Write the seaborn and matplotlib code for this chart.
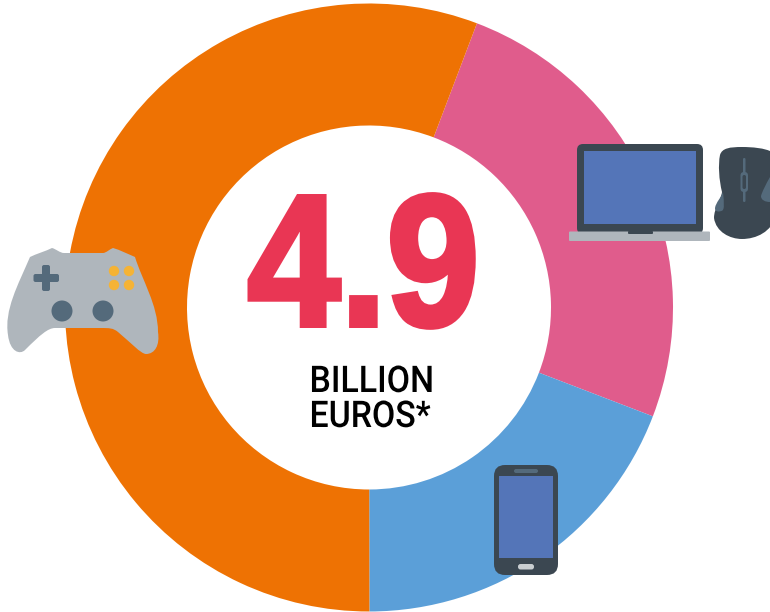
import matplotlib
matplotlib.use("Agg")
import matplotlib.pyplot as plt
import matplotlib.patheffects as pe
from matplotlib.patches import FancyBboxPatch, Circle, PathPatch, Rectangle
from matplotlib.path import Path
from matplotlib.transforms import Affine2D
import seaborn as sns

# Revenue shares by platform, in percent
platforms = ["Computer", "Mobile", "Console"]
shares = [25.05, 19.15, 55.8]
slice_colors = ["#E05C8C", "#5B9FD8", "#EE7203"]
total_value = "4.9"
total_unit = "BILLION\nEUROS*"

RED = "#E93654"
GREY = "#AFB6BC"
DARK = "#3B4751"
SCREEN = "#5475B8"
SLATE = "#546A7B"
YELLOW = "#F5B335"
W, H = 770, 612

sns.set_theme(style="white")
fig = plt.figure(figsize=(W / 100, H / 100), dpi=100)
ax = fig.add_axes([0, 0, 1, 1])


class Condensed(pe.AbstractPathEffect):
    """Squeeze glyphs horizontally about x = anchor, with an optional mitred outline."""

    def __init__(self, anchor, factor, stroke=0.0, color="black"):
        super().__init__()
        self.anchor, self.factor, self.stroke, self.color = anchor, factor, stroke, color

    def draw_path(self, renderer, gc, tpath, affine, rgbFace=None):
        squeeze = Affine2D().translate(-self.anchor, 0).scale(self.factor, 1).translate(self.anchor, 0)
        gc0 = renderer.new_gc()
        gc0.copy_properties(gc)
        gc0.set_foreground(self.color)
        gc0.set_linewidth(self.stroke)
        gc0.set_joinstyle("miter")
        renderer.draw_path(gc0, tpath, affine + squeeze, rgbFace)
        gc0.restore()


def Y(y):
    return H - y


def rrect(x0, y0, x1, y1, r, color, z=5):
    ax.add_patch(FancyBboxPatch((x0 + r, Y(y1) + r), x1 - x0 - 2 * r, y1 - y0 - 2 * r,
                                boxstyle=f"round,pad={r},rounding_size={r}",
                                fc=color, ec="none", zorder=z))


def curve(points, color, z=5):
    """Closed shape from a start point followed by cubic bezier triples."""
    verts = [(x, Y(y)) for x, y in points]
    codes = [Path.MOVETO] + [Path.CURVE4] * (len(verts) - 1)
    verts.append(verts[0])
    codes.append(Path.CLOSEPOLY)
    ax.add_patch(PathPatch(Path(verts, codes), fc=color, ec="none", zorder=z))


ax.pie(shares, colors=slice_colors, startangle=90 - 20.8, counterclock=False,
       center=(369, Y(307.5)), radius=304,
       wedgeprops=dict(width=304 - 182, linewidth=0))

# Headline figure and unit in the hole
ax.text(363.5, Y(325.5), total_value, ha="center", va="baseline", color=RED,
        fontsize=135, fontfamily="Liberation Sans", fontweight="bold",
        path_effects=[Condensed(363.5, 0.89, stroke=3.6, color=RED)], zorder=4)
ax.text(309.5, Y(427), total_unit, ha="left", va="baseline", color="black",
        fontsize=26.5, fontfamily="Roboto", fontweight="medium", linespacing=1.0,
        path_effects=[Condensed(309.5, 0.92, stroke=0.0, color="black")], zorder=4)

# Game controller
curve([(30, 257),
       (36, 254), (46, 251), (52, 248),
       (56, 249), (60, 253), (64, 253),
       (80, 253), (90, 253), (103, 253),
       (106, 253), (110, 249), (113, 248),
       (120, 250), (128, 254), (135, 257),
       (142, 280), (158, 305), (158, 332),
       (160, 345), (155, 354), (146, 354),
       (141, 354), (130, 342), (118, 332),
       (113, 328), (110, 328), (100, 328),
       (80, 328), (70, 328), (55, 328),
       (48, 328), (40, 335), (25, 350),
       (20, 355), (10, 352), (8, 335),
       (4, 310), (18, 285), (30, 257)], GREY)
rrect(42, 265, 50, 291, 2, SLATE, 6)
rrect(33.5, 274, 59, 282, 2, SLATE, 6)
for cx, cy in [(114, 271), (129, 271), (114, 285), (129, 285)]:
    ax.add_patch(Circle((cx, Y(cy)), 5.2, fc=YELLOW, ec="none", zorder=6))
for cx in (62, 103):
    ax.add_patch(Circle((cx, Y(311)), 10.5, fc=SLATE, ec="none", zorder=6))

# Laptop
rrect(577, 144, 703, 234, 6, DARK)
ax.add_patch(Rectangle((584, Y(224)), 112, 73, fc=SCREEN, ec="none", zorder=6))
rrect(569, 231.5, 710, 241, 1, GREY, 6)
rrect(628, 231, 653, 234, 1, DARK, 7)

# Mouse
curve([(742, 147),
       (730, 147), (722, 148), (720, 155),
       (718, 165), (719, 180), (722, 192),
       (721, 200), (714, 208), (714, 218),
       (716, 232), (730, 239), (742, 239),
       (756, 239), (772, 232), (776, 215),
       (780, 190), (778, 165), (772, 152),
       (765, 148), (752, 147), (742, 147)], DARK)
curve([(723, 192),
       (724, 203), (725, 211), (721, 211),
       (719, 212), (715, 212), (715, 208),
       (716, 202), (721, 198), (723, 192)], SLATE, 6)
curve([(770, 177),
       (766, 184), (762, 192), (761, 196),
       (761, 200), (765, 202), (770, 202),
       (772, 202), (772, 190), (770, 177)], SLATE, 6)
rrect(743, 158, 745.5, 202, 1.2, SLATE, 6)
rrect(740.5, 172, 748, 192, 3.5, SLATE, 6)
rrect(742.5, 175, 746, 189, 1.7, DARK, 7)

# Phone
rrect(494, 465, 558, 575, 11, DARK)
ax.add_patch(Rectangle((499, Y(558)), 54, 82, fc=SCREEN, ec="none", zorder=6))
rrect(514, 469, 538, 473, 2, SLATE, 6)
rrect(518, 564, 534, 569.5, 2.5, "#C9CED1", 6)

ax.set_xlim(0, W)
ax.set_ylim(0, H)
ax.set_aspect("equal")
ax.axis("off")
fig.savefig("out.png", dpi=100, facecolor="white")
